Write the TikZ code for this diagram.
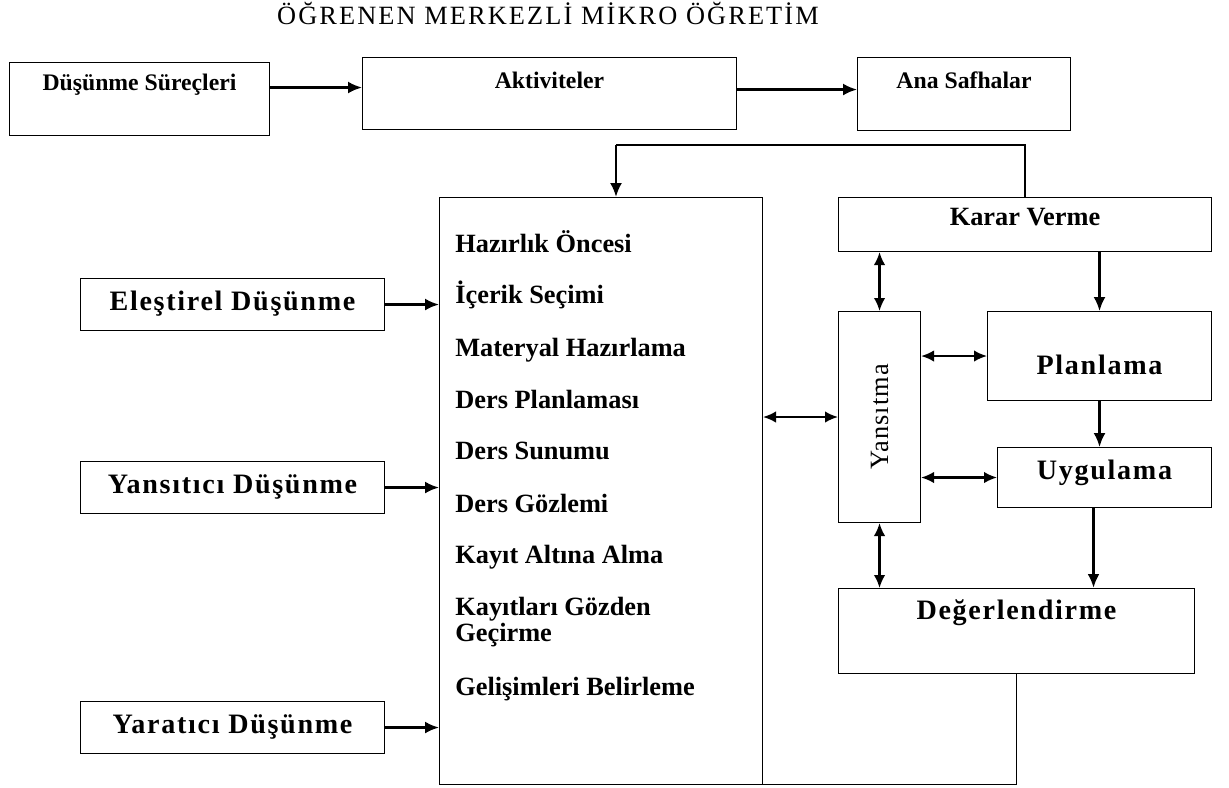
\documentclass[tikz,border=0pt]{standalone}
\usepackage{fontspec}
\setmainfont{Liberation Serif}
\usepackage{graphicx}
\usetikzlibrary{arrows.meta}

\tikzset{
  box/.style={draw, semithick, inner sep=0pt, font=\fontsize{15}{18}\selectfont\bfseries},
  topbox/.style={box, font=\fontsize{13.5}{16}\selectfont\bfseries},
  widebox/.style={box, font=\fontsize{16}{19}\selectfont\bfseries\addfontfeatures{LetterSpace=6}},
  item/.style={anchor=base west, inner sep=0pt, font=\fontsize{15}{18}\selectfont\bfseries},
  arr/.style={draw, line width=1.3pt, -{Latex[length=2.8mm,width=2.4mm]}},
  dbl/.style={draw, line width=1.2pt, {Latex[length=2.6mm,width=2.3mm]}-{Latex[length=2.6mm,width=2.3mm]}},
  ln/.style={draw, semithick}
}

\begin{document}
\begin{tikzpicture}[x=0.02cm, y=-0.02cm]
\useasboundingbox (0,0) rectangle (1229,787);
\node[anchor=base, inner sep=0pt, font=\fontsize{15}{18}\selectfont\addfontfeatures{LetterSpace=8}] (title) at (548,25) {ÖĞRENEN MERKEZLİ MİKRO ÖĞRETİM};

% top row
\node[topbox, anchor=north west, minimum width=5.2cm, text height=0.56cm, text depth=0.9cm] (dus) at (9,62) {Düşünme Süreçleri};
\node[topbox, anchor=north west, minimum width=7.48cm, text height=0.62cm, text depth=0.82cm] (akt) at (362,57) {Aktiviteler};
\node[topbox, anchor=north west, minimum width=4.26cm, text height=0.62cm, text depth=0.84cm] (ana) at (857,57) {Ana Safhalar};

% thinking boxes
\node[widebox, anchor=north west, minimum width=6.08cm, text height=0.64cm, text depth=0.4cm] (ele) at (80,278) {Eleştirel Düşünme};
\node[widebox, anchor=north west, minimum width=6.08cm, text height=0.64cm, text depth=0.4cm] (ysd) at (80,461) {Yansıtıcı Düşünme};
\node[widebox, anchor=north west, minimum width=6.08cm, text height=0.64cm, text depth=0.4cm] (yrd) at (80,701) {Yaratıcı Düşünme};

% activities
\node[draw, semithick, anchor=north west, inner sep=0pt, minimum width=6.46cm, minimum height=11.74cm] (big) at (439,197) {};
\foreach \t/\y [count=\n] in {Hazırlık Öncesi/252, İçerik Seçimi/303, Materyal Hazırlama/356,
  Ders Planlaması/408, Ders Sunumu/459, Ders Gözlemi/512, Kayıt Altına Alma/563,
  Kayıtları Gözden/615, Geçirme/641, Gelişimleri Belirleme/695}
  \node[item] (it\n) at (455,\y) {\t};

% phases
\node[box, anchor=north west, minimum width=7.46cm, text height=0.56cm, text depth=0.52cm] (kar) at (838,197) {Karar Verme};
\node[draw, semithick, anchor=north west, inner sep=0pt, minimum width=1.64cm, minimum height=4.22cm,
  font=\fontsize{15}{18}\selectfont\addfontfeatures{LetterSpace=4}] (yan) at (838,311) {\rotatebox{90}{Yansıtma}};
\node[widebox, anchor=north west, minimum width=4.48cm, text height=1.26cm, text depth=0.52cm] (pla) at (987,311) {Planlama};
\node[widebox, anchor=north west, minimum width=4.28cm, text height=0.64cm, text depth=0.56cm] (uyg) at (997,447) {Uygulama};
\node[widebox, anchor=north west, minimum width=7.12cm, text height=0.62cm, text depth=1.08cm] (deg) at (838,588) {Değerlendirme};

\coordinate (c1) at (616,145);

\path[arr] ([yshift=0.12cm]akt.west -| dus.east) -- ([yshift=0.12cm]akt.west);
\path[arr] ([yshift=0.08cm]akt.east) -- ([yshift=0.08cm]akt.east -| ana.west);
\path[ln] (kar.north) |- (c1);
\path[arr] (c1) -- (c1 |- big.north);
\path[arr] (ele.east) -- (ele.east -| big.west);
\path[arr] (ysd.east) -- (ysd.east -| big.west);
\path[arr] (yrd.east) -- (yrd.east -| big.west);
\path[dbl] (yan.west -| big.east) -- (yan.west);
\path[dbl] (yan.north |- kar.south) -- (yan.north);
\path[arr] (pla.north |- kar.south) -- (pla.north);
\path[dbl] (yan.east |- pla.west) -- (pla.west);
\path[arr] (pla.south) -- (pla.south |- uyg.north);
\path[dbl] (yan.east |- uyg.west) -- (uyg.west);
\path[dbl] (yan.south) -- (yan.south |- deg.north);
\path[arr, line width=1.6pt] ([xshift=-0.22cm]uyg.south) -- ([xshift=-0.22cm]uyg.south |- deg.north);
\path[ln] (deg.south) -- (deg.south |- big.south) -- (big.south east);
\end{tikzpicture}
\end{document}
